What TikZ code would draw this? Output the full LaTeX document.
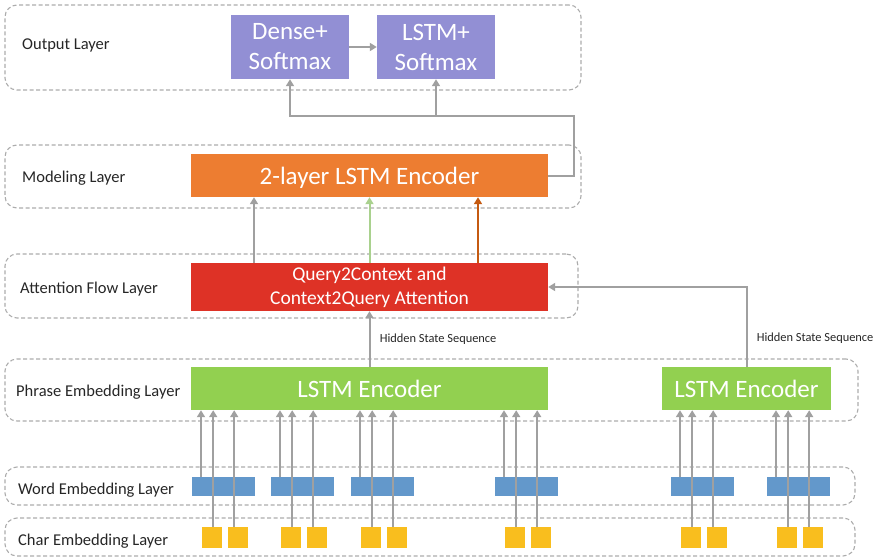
\documentclass[tikz,border=0pt]{standalone}
\usepackage{fontspec}
\setmainfont{Carlito}
\usepackage{xcolor}
\usepackage{tikz}
\usetikzlibrary{positioning,arrows.meta,calc}

\definecolor{outpurple}{RGB}{146,143,212}
\definecolor{modorange}{RGB}{237,125,49}
\definecolor{attred}{RGB}{222,50,38}
\definecolor{encgreen}{RGB}{146,208,80}
\definecolor{wordblue}{RGB}{99,152,203}
\definecolor{charyellow}{RGB}{249,190,30}
\definecolor{arrowgray}{RGB}{160,160,160}
\definecolor{dashgray}{RGB}{172,172,172}
\definecolor{lightgreen}{RGB}{169,209,142}
\definecolor{darkorange}{RGB}{197,90,17}
\definecolor{labeltext}{RGB}{38,38,38}

\begin{document}
\begin{tikzpicture}[
    x=1pt, y=-1pt,
    layer/.style={
        rectangle,
        rounded corners=12pt,
        draw=dashgray,
        dash pattern=on 4pt off 2.5pt,
        line width=1.1pt,
        inner sep=0pt
    },
    layername/.style={
        anchor=west,
        inner sep=0pt,
        text depth=0pt,
        text=labeltext,
        font=\fontsize{16.5}{20}\selectfont
    },
    block/.style={
        rectangle,
        inner sep=0pt,
        text=white,
        align=center,
        font=\fontsize{25}{30}\selectfont
    },
    wordvec/.style={
        rectangle,
        fill=wordblue,
        minimum width=63pt,
        minimum height=19pt,
        inner sep=0pt
    },
    charvec/.style={
        rectangle,
        fill=charyellow,
        minimum width=20pt,
        minimum height=21pt,
        inner sep=0pt
    },
    arrow/.style={
        -{Triangle[length=7pt,width=8pt]},
        line width=2pt,
        draw=arrowgray
    },
    hidden/.style={
        text=labeltext,
        font=\fontsize{12.4}{14}\selectfont
    }
]
\useasboundingbox (0,0) rectangle (879,557);

% Layer frames
\node[layer, minimum width=576pt, minimum height=85pt] (outL) at (293,47.5) {};
\node[layer, minimum width=576pt, minimum height=63pt] (modL) at (293,176.5) {};
\node[layer, minimum width=573pt, minimum height=64pt] (attL) at (291.5,286) {};
\node[layer, minimum width=853pt, minimum height=62pt] (phrL) at (431.5,390) {};
\node[layer, minimum width=850pt, minimum height=38pt] (wordL) at (430,486) {};
\node[layer, minimum width=850pt, minimum height=38pt] (charL) at (430,537) {};

% Layer names
\node[layername] (outlbl) at (22,44) {Output Layer};
\node[layername] (modlbl) at (22,177) {Modeling Layer};
\node[layername] (attlbl) at (20,288) {Attention Flow Layer};
\node[layername] (phrlbl) at (16,391) {Phrase Embedding Layer};
\node[layername] (wordlbl) at (18,489) {Word Embedding Layer};
\node[layername] (charlbl) at (18,540) {Char Embedding Layer};

% Blocks
\node[block, fill=outpurple, minimum width=118pt, minimum height=64pt] (dense) at (290,47) {Dense+\\Softmax};
\node[block, fill=outpurple, minimum width=118pt, minimum height=64pt] (lstmout) at (436,47) {LSTM+\\Softmax};
\node[block, fill=modorange, minimum width=357pt, minimum height=43pt, text depth=0pt] (model) at (369.5,175.5) {2-layer LSTM Encoder};
\node[block, fill=attred, minimum width=357pt, minimum height=48pt, font=\fontsize{19.5}{24}\selectfont] (attn) at (369.5,287) {Query2Context and\\Context2Query Attention};
\node[block, fill=encgreen, minimum width=357pt, minimum height=43pt, text depth=0pt] (enc1) at (369.5,388.5) {LSTM Encoder};
\node[block, fill=encgreen, minimum width=169pt, minimum height=43pt, text depth=0pt] (enc2) at (746.5,388.5) {LSTM Encoder};

% Word and char embeddings
\foreach \b/\enc [count=\i] in {192/enc1,271/enc1,351/enc1,495/enc1,671/enc2,767/enc2} {
    \node[wordvec, anchor=west] (w\i) at (\b,486.5) {};
    \node[charvec, anchor=west] (ca\i) at (\b+10,537.5) {};
    \node[charvec, anchor=west] (cb\i) at (\b+36,537.5) {};
    \coordinate (pw\i) at ($(w\i.north west)+(9,0)$);
    \coordinate (pa\i) at ($(ca\i.north)+(1,0)$);
    \coordinate (pb\i) at ($(cb\i.north)+(-4,0)$);
    \draw[arrow] (pw\i) -- (pw\i |- \enc.south);
    \draw[arrow] (pa\i) -- (pa\i |- \enc.south);
    \draw[arrow] (pb\i) -- (pb\i |- \enc.south);
}

% Hidden state sequences
\draw[arrow] (enc1.north) -- node[hidden, right=6pt] (hid1) {Hidden State Sequence} (attn.south);
\draw[arrow] (enc2.north) |- node[hidden, pos=0.18, right=6pt] (hid2) {Hidden State Sequence} (attn.east);

% Attention to modeling
\draw[arrow] ([xshift=-115.5pt]attn.north) -- ([xshift=-115.5pt]model.south);
\draw[arrow, draw=lightgreen] (attn.north) -- (model.south);
\draw[arrow, draw=darkorange] ([xshift=108.5pt]attn.north) -- ([xshift=108.5pt]model.south);

% Modeling to output
\coordinate (turn) at (574,116);
\draw[arrow] (model.east) -| (turn) -| (dense.south);
\draw[arrow] (lstmout.south |- turn) -- (lstmout.south);
\draw[arrow] (dense) -- (lstmout);

\end{tikzpicture}
\end{document}
